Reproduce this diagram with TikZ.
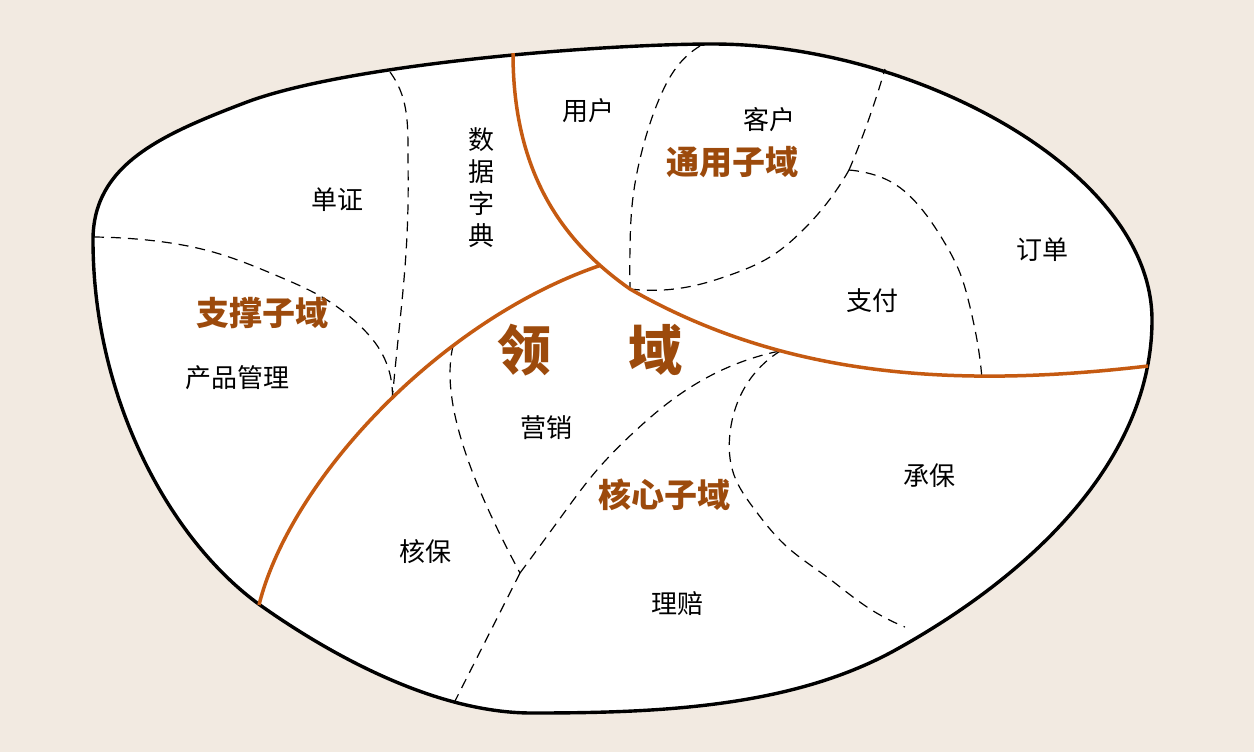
\documentclass[tikz,border=0pt]{standalone}
\usepackage{fontspec}
\setmainfont{Noto Sans CJK SC}
\usetikzlibrary{hobby}
\definecolor{bgc}{HTML}{F2EAE1}
\definecolor{orline}{HTML}{C55A11}
\definecolor{lab}{HTML}{9C4A0C}
\tikzset{
  outline/.style={draw=black, line width=1.7pt, fill=white},
  orbound/.style={draw=orline, line width=1.75pt},
  dsep/.style={draw=black, line width=0.6pt, dash pattern=on 5pt off 3.5pt},
  lbl/.style={font=\fontsize{13pt}{15pt}\selectfont, text=black, inner sep=0pt},
  sub/.style={font=\fontsize{16.5pt}{18pt}\selectfont\bfseries, text=lab, inner sep=0pt},
  big/.style={font=\fontsize{27pt}{30pt}\selectfont\bfseries, text=lab, inner sep=0pt}
}
\begin{document}
\begin{tikzpicture}[x=0.5pt, y=-0.5pt]
\fill[bgc] (0,0) rectangle (1254,752);
\useasboundingbox (0,0) rectangle (1254,752);
% outer blob
\path[outline] (93,240)
  .. controls (93,165) and (160,135) .. (247,102)
  .. controls (349,64) and (600,44) .. (713,44)
  .. controls (913,44) and (1152,170) .. (1152,320)
  .. controls (1152,450) and (1047,565) .. (899,648)
  .. controls (795,707) and (662,713) .. (532,713)
  .. controls (432,713) and (325,651) .. (260,605)
  .. controls (171,541) and (93,400) .. (93,240) -- cycle;
% orange boundaries (geometry, for junctions)
\path (513,53) .. controls (513,170) and (560,240) .. (630,289) coordinate[pos=0.85] (jA)
  .. controls (787,379) and (960,388) .. (1148,366) coordinate[pos=0.31] (jC);
\path (259,605) .. controls (290,480) and (440,320) .. (jA) coordinate[pos=0.53] (jF) coordinate[pos=0.68] (jG);
\coordinate (jB) at (630,289);
\coordinate (jD) at (520,573);
\coordinate (jE) at (849,170);
% dashed separators
\draw[dsep] plot[hobby] coordinates {(390,72) (402,95) (408,150) (408,205) (405,267) (397,350) (jF)};
\draw[dsep] plot[hobby] coordinates {(94,237) (147,240) (213,252) (280,277) (327,300) (357,323) (380,350) (jF)};
\draw[dsep] (jG) .. controls (440,400) and (470,480) .. (jD);
\draw[dsep] (jD) -- (454,703);
\draw[dsep] plot[hobby] coordinates {(jD) (561,517) (597,470) (633,433) (676,397) (722,370) (jC)};
\draw[dsep] plot[hobby] coordinates {(jC) (745,387) (730,433) (734,475) (755,510) (785,545) (827,577) (867,607) (905,627)};
\draw[dsep] plot[hobby] coordinates {(700,46) (680,63) (660,97) (643,147) (633,197) (630,247) (jB)};
\draw[dsep] plot[hobby] coordinates {(jB) (663,290) (697,285) (730,275) (770,257) (800,233) (827,203) (jE)};
\draw[dsep] plot[hobby] coordinates {(jE) (860,143) (873,107) (885,69)};
\draw[dsep] plot[hobby] coordinates {(jE) (863,172) (893,183) (920,207) (943,240) (960,273) (970,307) (977,340) (982,379)};
% orange boundaries (drawn)
\draw[orbound] (513,53) .. controls (513,170) and (560,240) .. (jB)
  .. controls (787,379) and (960,388) .. (1148,366);
\draw[orbound] (259,605) .. controls (290,480) and (440,320) .. (jA);
% labels
\node[lbl] (danzheng) at (337,200) {单证};
\node[lbl, align=center, font=\fontsize{13pt}{16pt}\selectfont] (shuju) at (481,188) {数\\据\\字\\典};
\node[lbl] (yonghu) at (588,111) {用户};
\node[lbl] (kehu) at (769,120) {客户};
\node[sub] (tongyong) at (732,162) {通用子域};
\node[sub] (zhicheng) at (262,313) {支撑子域};
\node[lbl] (chanpin) at (237,378) {产品管理};
\node[big] (lingyu) at (590,350) {领\hspace{39pt}域};
\node[lbl] (yingxiao) at (546,428) {营销};
\node[lbl] (hebao) at (425,552) {核保};
\node[sub] (hexin) at (664,495) {核心子域};
\node[lbl] (lipei) at (677,604) {理赔};
\node[lbl] (chengbao) at (929,476) {承保};
\node[lbl] (zhifu) at (872,301) {支付};
\node[lbl] (dingdan) at (1042,250) {订单};
\end{tikzpicture}
\end{document}
